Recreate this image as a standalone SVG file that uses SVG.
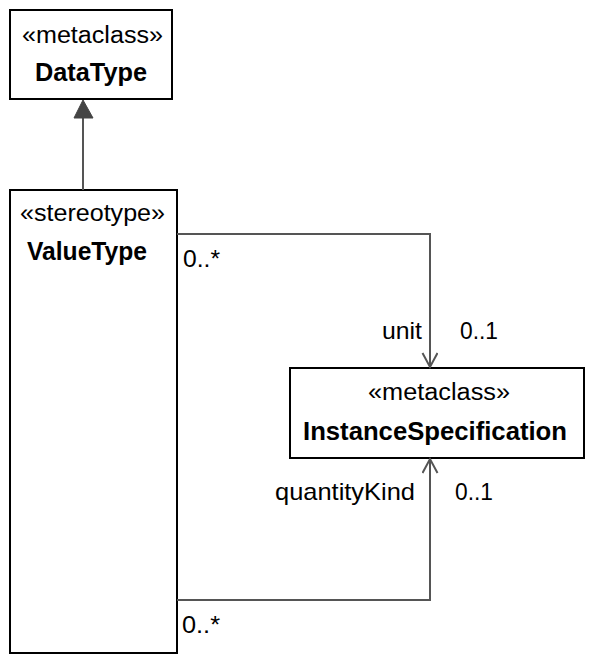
<svg xmlns="http://www.w3.org/2000/svg" width="589" height="662" viewBox="0 0 589 662">
<style>
.box{fill:#fff;stroke:#000;stroke-width:2}
.st{font-family:"Liberation Sans",Arial,sans-serif;font-size:23px;fill:#000}
.nm{font-family:"Liberation Sans",Arial,sans-serif;font-size:25px;font-weight:bold;fill:#000}
.lb{font-family:"Liberation Sans",Arial,sans-serif;font-size:24px;fill:#000}
.con{fill:none;stroke:#555;stroke-width:2}
</style>
<defs>
<marker id="open" markerWidth="20" markerHeight="20" refX="15" refY="8" orient="auto" markerUnits="userSpaceOnUse">
<path d="M1,0.5 L15,8 L1,15.5" fill="none" stroke="#555" stroke-width="2"/>
</marker>
</defs>
<g id="DataType">
<rect class="box" x="10" y="10" width="162" height="89"/>
<text class="st" x="22" y="43" textLength="141" lengthAdjust="spacingAndGlyphs">«metaclass»</text>
<text class="nm" x="35" y="81" textLength="112" lengthAdjust="spacingAndGlyphs">DataType</text>
</g>
<g id="ValueType">
<rect class="box" x="10" y="190" width="167" height="463"/>
<text class="st" x="20" y="221" textLength="145" lengthAdjust="spacingAndGlyphs">«stereotype»</text>
<text class="nm" x="27" y="260" textLength="120" lengthAdjust="spacingAndGlyphs">ValueType</text>
</g>
<g id="InstanceSpecification">
<rect class="box" x="290" y="368" width="294" height="90"/>
<text class="st" x="368" y="400" textLength="142" lengthAdjust="spacingAndGlyphs">«metaclass»</text>
<text class="nm" x="303" y="440" textLength="264" lengthAdjust="spacingAndGlyphs">InstanceSpecification</text>
</g>
<g id="connectors">
<line class="con" x1="83" y1="190" x2="83" y2="117"/>
<polygon points="83,100 74,118 93,118" fill="#444" stroke="#444" stroke-width="1"/>
<polyline class="con" points="177,234 430,234 430,367" marker-end="url(#open)"/>
<polyline class="con" points="177,600 430,600 430,459" marker-end="url(#open)"/>
<text class="lb" x="183" y="267" textLength="37" lengthAdjust="spacingAndGlyphs">0..*</text>
<text class="lb" x="382" y="339" textLength="40" lengthAdjust="spacingAndGlyphs">unit</text>
<text class="lb" x="460" y="339" textLength="38" lengthAdjust="spacingAndGlyphs">0..1</text>
<text class="lb" x="275" y="500" textLength="140" lengthAdjust="spacingAndGlyphs">quantityKind</text>
<text class="lb" x="455" y="500" textLength="38" lengthAdjust="spacingAndGlyphs">0..1</text>
<text class="lb" x="182" y="633" textLength="38" lengthAdjust="spacingAndGlyphs">0..*</text>
</g>
</svg>
